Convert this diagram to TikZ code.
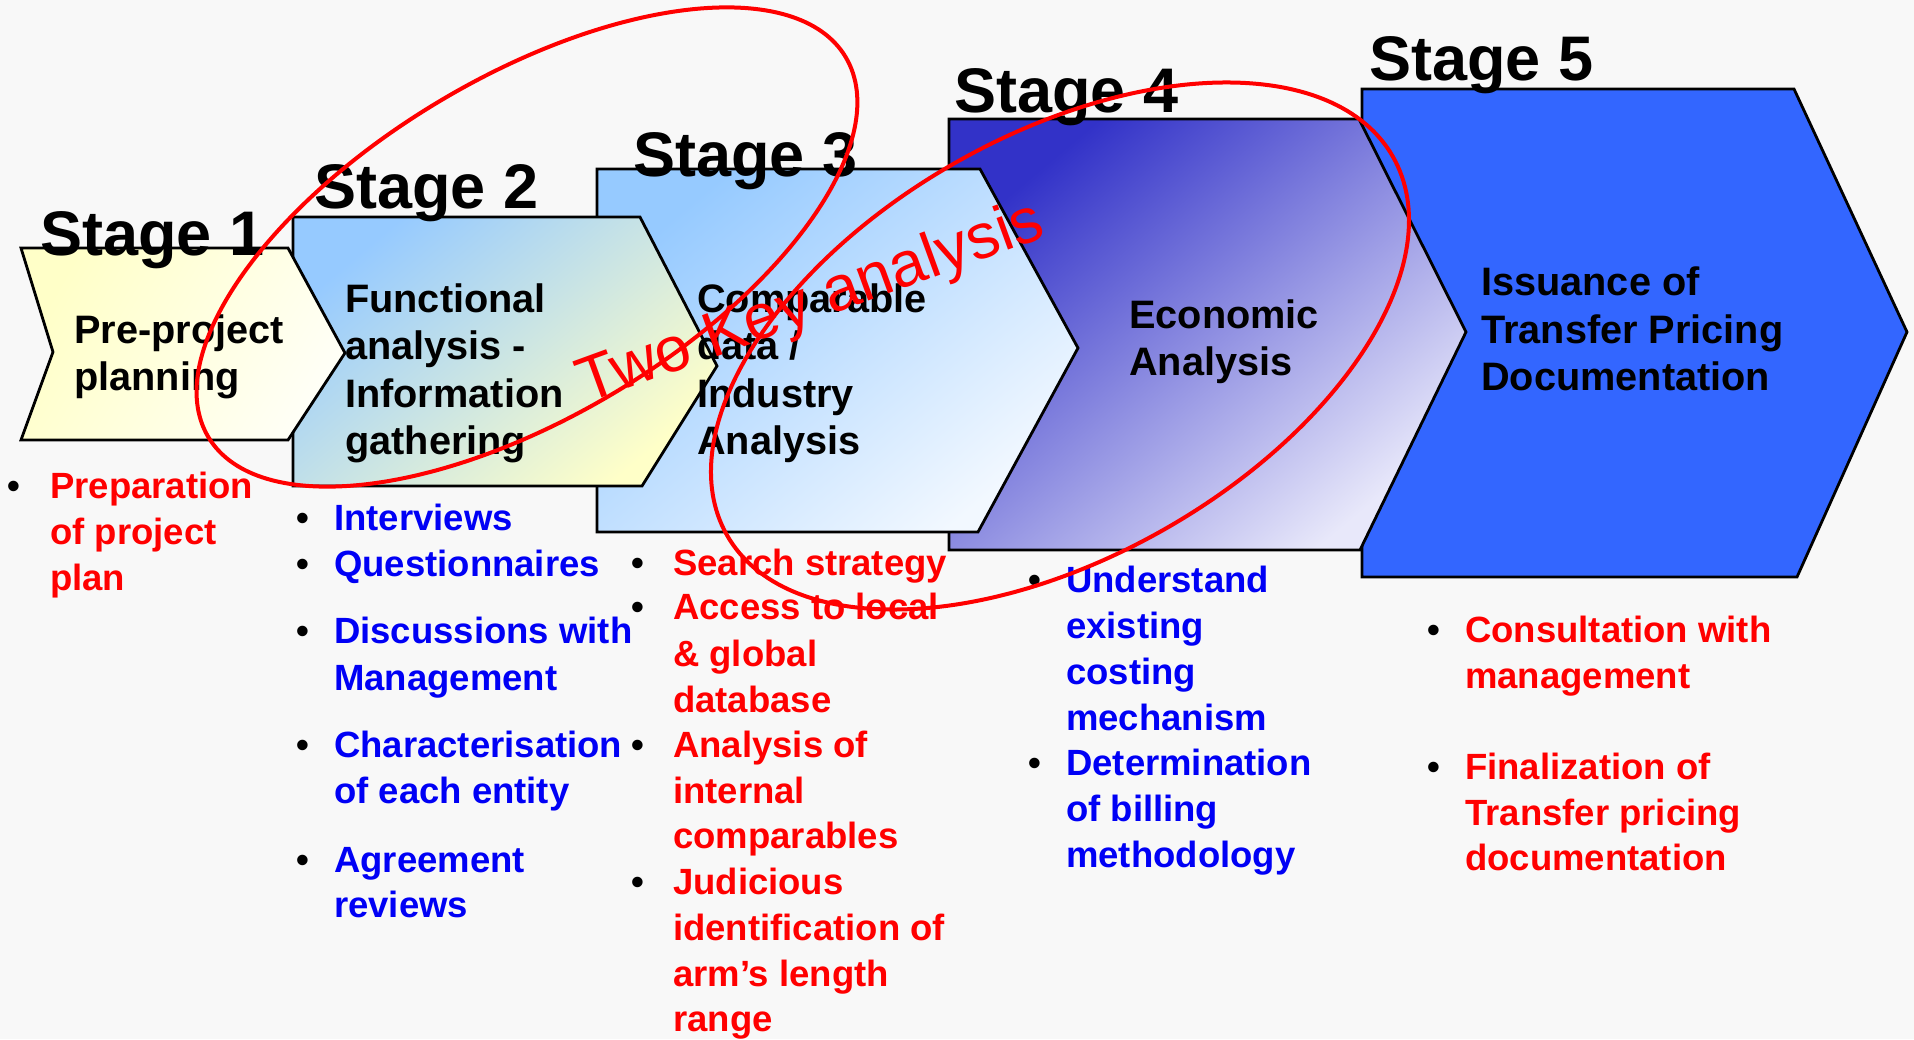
\documentclass[tikz,border=0pt]{standalone}
\usepackage{fontspec}
\setmainfont{Liberation Sans}
\definecolor{bg}{RGB}{248,248,248}
\definecolor{tpred}{RGB}{255,0,0}
\definecolor{tpblue}{RGB}{0,0,245}
\definecolor{sOneA}{RGB}{255,255,200}
\definecolor{sOneB}{RGB}{255,255,246}
\definecolor{sTwoA}{RGB}{150,202,255}
\definecolor{sTwoB}{RGB}{255,255,200}
\definecolor{sThreeA}{RGB}{150,202,255}
\definecolor{sThreeB}{RGB}{242,248,255}
\definecolor{sFourA}{RGB}{50,50,200}
\definecolor{sFourB}{RGB}{232,232,250}
\definecolor{sFive}{RGB}{51,102,255}
\begin{document}
\begin{tikzpicture}[x=1pt,y=-1pt,
  outline/.style={draw=black, line width=2.8pt, line join=miter},
  stagelbl/.style={anchor=base west, inner sep=0pt, font=\bfseries\fontsize{63}{63}\selectfont},
  boxtxt/.style={anchor=base west, inner sep=0pt, font=\bfseries\fontsize{39.7}{47}\selectfont},
  itemtxt/.style={anchor=base west, inner sep=0pt, font=\bfseries\fontsize{36.5}{46}\selectfont},
  bul/.style={anchor=base, inner sep=0pt, font=\bfseries\fontsize{36.5}{46}\selectfont, text=black},
  redtxt/.style={itemtxt, text=tpred},
  bluetxt/.style={itemtxt, text=tpblue},
  ring/.style={draw=tpred, line width=4pt},
]
% canvas
\fill[bg] (0,0) rectangle (1914,1039);
\useasboundingbox (0,0) rectangle (1914,1039);
\clip (0,0) rectangle (1914,1039);

% stage chevrons, back to front
\filldraw[fill=sFive, outline] (1362,89) -- (1794,89) -- (1907,332) -- (1797,577) -- (1362,577) -- cycle;
\shadedraw[top color=sFourA, bottom color=sFourB, shading angle=40, outline]
  (949,119) -- (1359,119) -- (1466,332) -- (1360,550) -- (949,550) -- cycle;
\shadedraw[top color=sThreeA, bottom color=sThreeB, shading angle=40, outline]
  (597,169) -- (980,169) -- (1078,348) -- (978,532) -- (597,532) -- cycle;
\shadedraw[top color=sTwoA, bottom color=sTwoB, shading angle=40, outline]
  (293,217) -- (640,217) -- (717,366) -- (642,486) -- (293,486) -- cycle;
\shadedraw[top color=sOneA, bottom color=sOneB, shading angle=60, outline]
  (21,248) -- (288,248) -- (345,353) -- (288,440) -- (21,440) -- (53,352) -- cycle;

% stage headings
\node[stagelbl] (st1) at (40,255) {Stage 1};
\node[stagelbl] (st2) at (314,208) {Stage 2};
\node[stagelbl] (st3) at (633,176) {Stage 3};
\node[stagelbl] (st4) at (954,112) {Stage 4};
\node[stagelbl] (st5) at (1369,80) {Stage 5};

% chevron captions
\node[boxtxt] (b1a) at (74,343) {Pre-project};
\node[boxtxt] (b1b) at (74,390) {planning};

\node[boxtxt] (b2a) at (345,312) {Functional};
\node[boxtxt] (b2b) at (345,359.5) {analysis -};
\node[boxtxt] (b2c) at (345,407) {Information};
\node[boxtxt] (b2d) at (345,454.5) {gathering};

\node[boxtxt] (b3a) at (697,312) {Comparable};
\node[boxtxt] (b3b) at (697,359.5) {data /};
\node[boxtxt] (b3c) at (697,407) {Industry};
\node[boxtxt] (b3d) at (697,454.5) {Analysis};

\node[boxtxt] (b4a) at (1129,328) {Economic};
\node[boxtxt] (b4b) at (1129,375.5) {Analysis};

\node[boxtxt] (b5a) at (1481,295.5) {Issuance of};
\node[boxtxt] (b5b) at (1481,343) {Transfer Pricing};
\node[boxtxt] (b5c) at (1481,390.5) {Documentation};

% stage 1 activities
\node[bul] (p1) at (14,498) {•};
\node[redtxt] (t1a) at (50,498) {Preparation};
\node[redtxt] (t1b) at (50,544) {of project};
\node[redtxt] (t1c) at (50,590) {plan};

% stage 2 activities
\node[bul] (p2a) at (303,530) {•};
\node[bluetxt] (t2a) at (334,530) {Interviews};
\node[bul] (p2b) at (303,576) {•};
\node[bluetxt] (t2b) at (334,576) {Questionnaires};
\node[bul] (p2c) at (303,643) {•};
\node[bluetxt] (t2c) at (334,643) {Discussions with};
\node[bluetxt] (t2d) at (334,690) {Management};
\node[bul] (p2e) at (303,757) {•};
\node[bluetxt] (t2e) at (334,757) {Characterisation};
\node[bluetxt] (t2f) at (334,803) {of each entity};
\node[bul] (p2g) at (303,872) {•};
\node[bluetxt] (t2g) at (334,872) {Agreement};
\node[bluetxt] (t2h) at (334,917) {reviews};

% stage 3 activities
\node[bul] (p3a) at (638,575) {•};
\node[redtxt] (t3a) at (673,575) {Search strategy};
\node[bul] (p3b) at (638,619) {•};
\node[redtxt] (t3b) at (673,619) {Access to local};
\node[redtxt] (t3c) at (673,666) {\& global};
\node[redtxt] (t3d) at (673,712) {database};
\node[bul] (p3e) at (638,757) {•};
\node[redtxt] (t3e) at (673,757) {Analysis of};
\node[redtxt] (t3f) at (673,803) {internal};
\node[redtxt] (t3g) at (673,848) {comparables};
\node[bul] (p3h) at (638,894) {•};
\node[redtxt] (t3h) at (673,894) {Judicious};
\node[redtxt] (t3i) at (673,940) {identification of};
\node[redtxt] (t3j) at (673,986) {arm’s length};
\node[redtxt] (t3k) at (673,1031) {range};

% stage 4 activities
\node[bul] (p4a) at (1035,592) {•};
\node[bluetxt] (t4a) at (1066,592) {Understand};
\node[bluetxt] (t4b) at (1066,638) {existing};
\node[bluetxt] (t4c) at (1066,684) {costing};
\node[bluetxt] (t4d) at (1066,730) {mechanism};
\node[bul] (p4e) at (1035,775) {•};
\node[bluetxt] (t4e) at (1066,775) {Determination};
\node[bluetxt] (t4f) at (1066,821) {of billing};
\node[bluetxt] (t4g) at (1066,867) {methodology};

% stage 5 activities
\node[bul] (p5a) at (1434,642) {•};
\node[redtxt] (t5a) at (1465,642) {Consultation with};
\node[redtxt] (t5b) at (1465,688) {management};
\node[bul] (p5c) at (1434,779) {•};
\node[redtxt] (t5c) at (1465,779) {Finalization of};
\node[redtxt] (t5d) at (1465,825) {Transfer pricing};
\node[redtxt] (t5e) at (1465,870) {documentation};

% hand-drawn emphasis
\coordinate (ringA) at (527,247);
\coordinate (ringB) at (1060,346);
\draw[ring, rotate around={30.8:(ringA)}] (ringA) ellipse [x radius=371pt, y radius=170pt];
\draw[ring, rotate around={29.6:(ringB)}] (ringB) ellipse [x radius=383pt, y radius=211pt];
\node[anchor=base west, inner sep=0pt, rotate=20, text=tpred,
      font=\fontsize{63.5}{63.5}\selectfont] (twokey) at (586,404) {Two Key analysis};
\end{tikzpicture}
\end{document}
